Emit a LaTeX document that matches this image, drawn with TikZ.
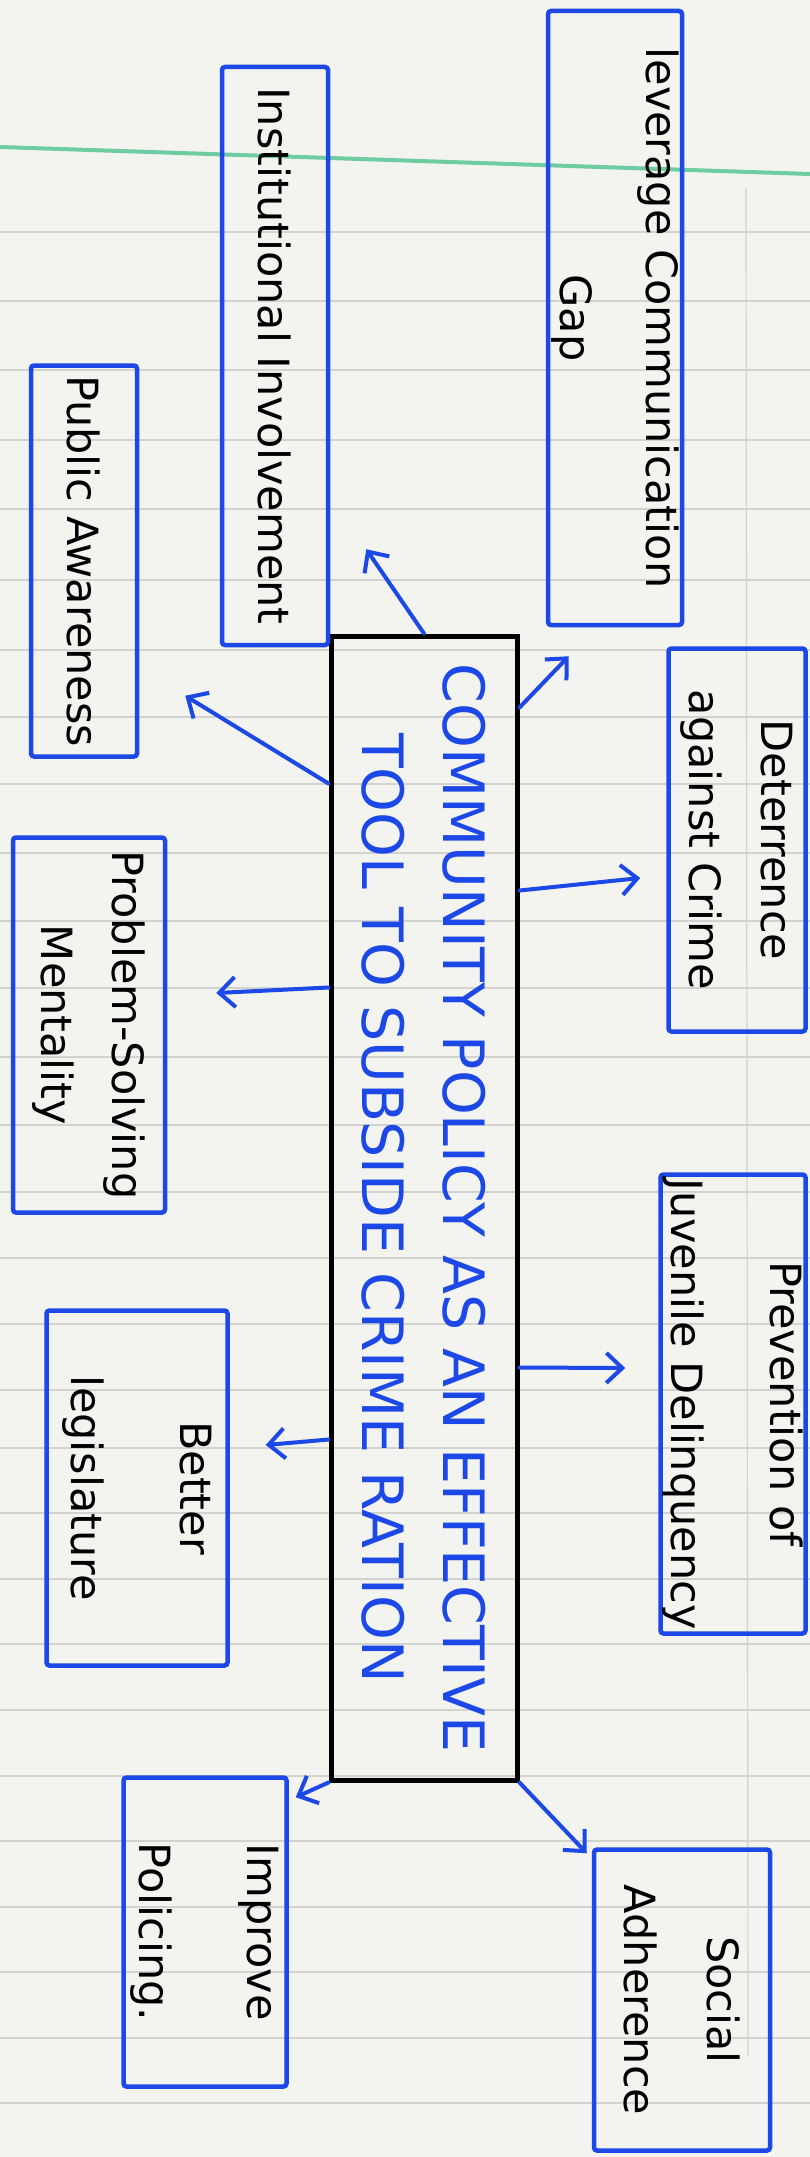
\documentclass[tikz,border=0pt]{standalone}
\usepackage{fontspec}
\setmainfont{DejaVu Sans}
\usepackage{graphicx}
\usepackage{tikz}
\usetikzlibrary{arrows.meta}
\definecolor{penblue}{RGB}{28, 72, 232}
\definecolor{papercolor}{RGB}{243, 243, 240}
\definecolor{rulecolor}{RGB}{210, 210, 207}
\definecolor{margincolor}{RGB}{110, 205, 160}
\newcommand{\sidetext}[1]{\rotatebox{-90}{\shortstack{#1}}}

\begin{document}
\begin{tikzpicture}[
    x=1pt, y=-1pt,
    idea/.style={draw=penblue, line width=4.5pt, rounded corners=3pt, inner sep=0pt, font=\fontsize{43}{50}\selectfont},
    core/.style={draw=black, line width=5pt, inner sep=0pt, text=penblue, font=\fontsize{57}{60}\selectfont},
    link/.style={draw=penblue, line width=4pt, line cap=round, -{Straight Barb[length=16pt, width=30pt]}}
]
    % Ruled paper
    \useasboundingbox (0,0) rectangle (810,2157);
    \fill[papercolor] (0,0) rectangle (810,2157);
    \foreach \y in {232,301,370,440,509,580,650,717,784,853,921,988,1057,1125,1192,1258,1324,1390,1448,1513,1579,1644,1710,1776,1841,1907,1972,2038,2103}
        \draw[rulecolor, line width=1.2pt] (0,\y) -- (810,\y);
    \draw[rulecolor, line width=1.2pt] (746,188) -- (748,2055);
    \draw[margincolor, line width=4pt] (0,147) -- (810,174);

    % Central idea
    \node[core, minimum width=186pt, minimum height=1144pt] (main) at (424,1208)
        {\sidetext{COMMUNITY POLICY AS AN EFFECTIVE\\[35pt]TOOL TO SUBSIDE CRIME RATION}};

    % Left side
    \node[idea, minimum width=106pt, minimum height=578pt] (inst) at (275,356) {\sidetext{Institutional Involvement}};
    \node[idea, minimum width=106pt, minimum height=391pt] (pub) at (84,561) {\sidetext{Public Awareness}};
    \node[idea, minimum width=152pt, minimum height=375pt] (prob) at (89,1025) {\sidetext{Problem-Solving\\[26pt]Mentality}};
    \node[idea, minimum width=181pt, minimum height=355pt] (bet) at (137,1488) {\sidetext{Better\\[73pt]legislature}};
    \node[idea, minimum width=163pt, minimum height=309pt] (imp) at (205,1932) {\sidetext{Improve\\[63pt]Policing.}};

    % Right side
    \node[idea, minimum width=134pt, minimum height=614pt] (lev) at (615,318) {\sidetext{leverage Communication\\[42pt]Gap}};
    \node[idea, minimum width=137pt, minimum height=383pt] (det) at (737,840) {\sidetext{Deterrence\\[36pt]against Crime}};
    \node[idea, minimum width=145pt, minimum height=459pt] (prev) at (733,1404) {\sidetext{Prevention of\\[63pt]Juvenile Delinquency}};
    \node[idea, minimum width=176pt, minimum height=301pt] (soc) at (682,2000) {\sidetext{Social\\[47pt]Adherence}};

    % Arrows
    \draw[link] (main.north) -- ([shift={(36,-98)}]inst.south east);
    \draw[link] ([shift={(0,74)}]main.north east) -- ([shift={(23,29)}]lev.south west);
    \draw[link] ([shift={(0,150)}]main.north west) -- ([shift={(46,-63)}]pub.south east);
    \draw[link] ([shift={(0,257)}]main.north east) -- ([shift={(-26,38)}]det.west);
    \draw[link] ([shift={(0,354)}]main.north west) -- ([shift={(49,-32)}]prob.east);
    \draw[link] ([shift={(0,734)}]main.north east) -- ([shift={(-33,-36)}]prev.west);
    \draw[link] ([shift={(0,806)}]main.north west) -- ([shift={(36,-43)}]bet.east);
    \draw[link] (main.south west) -- ([shift={(7,22)}]imp.north east);
    \draw[link] (main.south east) -- ([shift={(-5,6)}]soc.north west);

\end{tikzpicture}
\end{document}
